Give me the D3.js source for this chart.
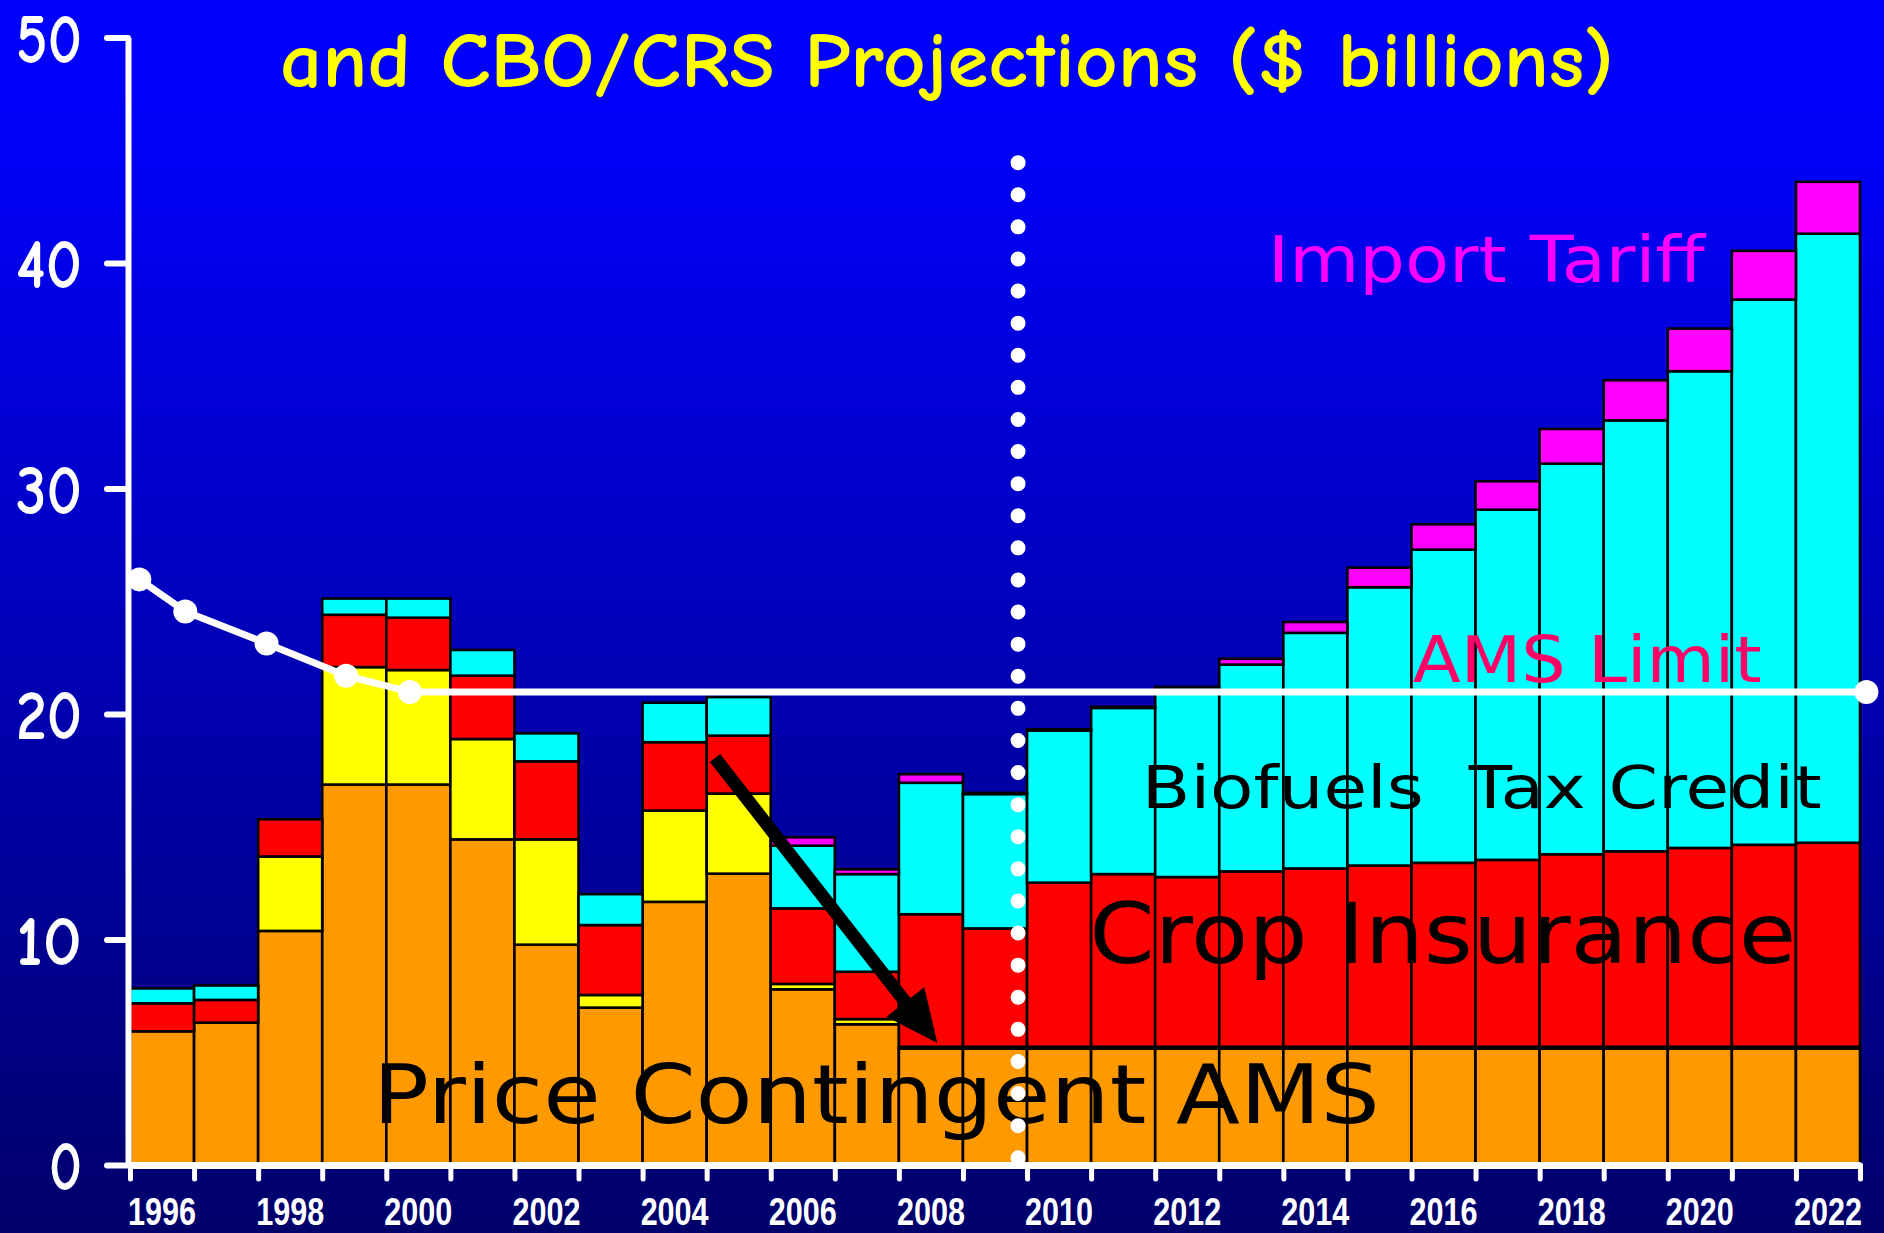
<!DOCTYPE html>
<html><head><meta charset="utf-8">
<script src="https://cdn.jsdelivr.net/npm/d3@7/dist/d3.min.js"></script>
<style>html,body{margin:0;padding:0;overflow:hidden;background:#0000b0}</style>
</head><body>
<svg id="chart" width="1884" height="1233"></svg>
<script>
// ---------- data ----------
const years = [1996,1997,1998,1999,2000,2001,2002,2003,2004,2005,2006,2007,2008,2009,2010,2011,2012,2013,2014,2015,2016,2017,2018,2019,2020,2021,2022];
const priceContingent = [5.93,6.31,10.38,16.87,16.87,14.44,9.77,6.98,11.67,12.92,7.79,6.24,5.2,5.2,5.2,5.2,5.2,5.2,5.2,5.2,5.2,5.2,5.2,5.2,5.2,5.2,5.2];
const otherAMS        = [0,0,3.30,5.21,5.08,4.45,4.67,0.56,4.05,3.55,0.24,0.23,0,0,0,0,0,0,0,0,0,0,0,0,0,0,0];
const cropInsurance   = [1.24,1.01,1.65,2.32,2.32,2.81,3.46,3.10,3.03,2.57,3.35,2.10,5.92,5.29,7.32,7.70,7.57,7.82,7.95,8.08,8.20,8.33,8.58,8.71,8.86,9.00,9.09];
const biofuelsCredit  = [0.66,0.64,0,0.72,0.85,1.14,1.24,1.37,1.75,1.71,2.78,4.33,5.83,5.96,6.75,7.37,8.38,9.17,10.45,12.34,13.89,15.53,17.32,19.11,21.14,24.18,27.01];
const importTariff    = [0,0,0,0,0,0,0,0,0,0,0.37,0.21,0.38,0.05,0.05,0.05,0.05,0.26,0.48,0.87,1.12,1.26,1.54,1.78,1.89,2.16,2.30];
const seriesKeys   = ["priceContingent","otherAMS","cropInsurance","biofuelsCredit","importTariff"];
const seriesColors = ["#FF9900","#FFFF00","#FF0000","#00FFFF","#FF00FF"];

const amsLimitX = [1995.645,1996.363,1997.631,1998.872,1999.867,2022.6];
const amsLimitY = [25.97,24.55,23.13,21.70,20.98,20.98];

const yTickValues = [0,10,20,30,40,50];
const xTickLabels = ["1996","1998","2000","2002","2004","2006","2008","2010","2012","2014","2016","2018","2020","2022"];
const projectionDivider = 2009.36;
const arrowFrom = [2004.63, 18.05];
const arrowTo   = [2008.10, 5.41];

const titleLine = "and CBO/CRS Projections ($ billions)";
const seriesLabels = [
  {text:"Price Contingent AMS", x:1999.29, y:1.86,  size:82, len:1007, color:"#000000"},
  {text:"Crop Insurance",       x:2010.47, y:8.96,  size:83, len:707,  color:"#000000"},
  {text:"Biofuels  Tax Credit", x:2011.29, y:15.83, size:59, len:680,  color:"#000000"},
  {text:"AMS Limit",            x:2015.52, y:21.42, size:64, len:349,  color:"#FF0066"},
  {text:"Import Tariff",        x:2013.26, y:39.16, size:64, len:437,  color:"#FF00FF"}
];

// ---------- setup ----------
const W = 1884, H = 1233;
const svg = d3.select("#chart");
const defs = svg.append("defs");
const grad = defs.append("linearGradient").attr("id","bg").attr("x1",0).attr("y1",0).attr("x2",0).attr("y2",1);
grad.append("stop").attr("offset","0").attr("stop-color","#0000FF");
grad.append("stop").attr("offset","0.12").attr("stop-color","#0000F8");
grad.append("stop").attr("offset","1").attr("stop-color","#00006A");
svg.append("rect").attr("width",W).attr("height",H).attr("fill","url(#bg)");

const x  = d3.scaleBand().domain(years).range([130,1860]).padding(0);
const xl = d3.scaleLinear().domain([1995.5,2022.5]).range([130,1860]);
const y  = d3.scaleLinear().domain([0,50]).range([1165,37.5]);
const bw = x.bandwidth();

// ---------- stacked bars ----------
const rows = years.map((yr,i)=>({year:yr, priceContingent:priceContingent[i], otherAMS:otherAMS[i],
  cropInsurance:cropInsurance[i], biofuelsCredit:biofuelsCredit[i], importTariff:importTariff[i]}));
const stacked = d3.stack().keys(seriesKeys)(rows);

const gBars = svg.append("g");
stacked.forEach((layer,li)=>{
  gBars.append("g").selectAll("rect")
    .data(layer.filter(d=>d[1]-d[0]>0))
    .join("rect")
    .attr("x",d=>x(d.data.year))
    .attr("y",d=>y(d[1]))
    .attr("width",bw)
    .attr("height",d=>y(d[0])-y(d[1]))
    .attr("fill",seriesColors[li])
    .attr("stroke","#000")
    .attr("stroke-width",2.6);
});
// thick boundary over projected price-contingent level
const projYears = years.filter(yr=>yr>=2008);
svg.append("line")
  .attr("x1",x(projYears[0])).attr("x2",x(projYears[projYears.length-1])+bw)
  .attr("y1",y(priceContingent[years.indexOf(2008)])).attr("y2",y(priceContingent[years.indexOf(2008)]))
  .attr("stroke","#000").attr("stroke-width",4.5);

// ---------- axes ----------
const yAxis = d3.axisLeft(y).tickValues(yTickValues).tickSize(21).tickSizeOuter(0).tickFormat("");
const gy = svg.append("g").attr("transform","translate(128,0)").call(yAxis);
gy.select(".domain").attr("stroke","#fff").attr("stroke-width",6);
gy.selectAll(".tick line").attr("stroke","#fff").attr("stroke-width",6).attr("stroke-linecap","round");

const xAxis = d3.axisBottom(xl).tickValues(d3.range(1995.5,2023,1)).tickSize(14).tickSizeOuter(0).tickFormat("");
const gx = svg.append("g").attr("transform","translate(0,1165)").call(xAxis);
gx.select(".domain").attr("stroke","#fff").attr("stroke-width",7);
gx.selectAll(".tick line").attr("stroke","#fff").attr("stroke-width",5).attr("stroke-linecap","round");

// y tick labels
svg.append("g").selectAll("text").data(yTickValues).join("text")
  .attr("x",82).attr("y",d=>y(d)).attr("dy","0.36em")
  .attr("text-anchor","end")
  .attr("font-family","'Comic Sans MS','Comic Neue',Lato,'DejaVu Sans',sans-serif")
  .attr("font-weight","900").attr("font-size",70).attr("fill","#fff")
  .attr("textLength",d=>String(d).length*33).attr("lengthAdjust","spacingAndGlyphs")
  .text(d=>d);

// x tick labels
svg.append("g").selectAll("text").data(xTickLabels).join("text")
  .attr("x",d=>x(+d)+bw/2).attr("y",1225)
  .attr("text-anchor","middle")
  .attr("font-family","'Liberation Sans Narrow','Arial Narrow','Liberation Sans',Arial,sans-serif")
  .attr("font-weight","bold").attr("font-size",39).attr("fill","#fff")
  .attr("textLength",68).attr("lengthAdjust","spacingAndGlyphs")
  .text(d=>d);

// ---------- arrow ----------
(function(){
  const p0=[xl(arrowFrom[0]),y(arrowFrom[1])], p1=[xl(arrowTo[0]),y(arrowTo[1])];
  const dx=p1[0]-p0[0], dy=p1[1]-p0[1], L=Math.hypot(dx,dy);
  const u=[dx/L,dy/L], n=[-u[1],u[0]];
  const headL=52, headW=24;
  const base=[p1[0]-u[0]*headL, p1[1]-u[1]*headL];
  svg.append("line").attr("x1",p0[0]).attr("y1",p0[1])
    .attr("x2",base[0]+u[0]*6).attr("y2",base[1]+u[1]*6)
    .attr("stroke","#000").attr("stroke-width",13);
  svg.append("path").attr("d",d3.line()([p1,[base[0]+n[0]*headW,base[1]+n[1]*headW],[base[0]-n[0]*headW,base[1]-n[1]*headW]])+"Z")
    .attr("fill","#000");
})();

// ---------- AMS limit line ----------
const amsPts = amsLimitX.map((v,i)=>[xl(v),y(amsLimitY[i])]);
svg.append("path").attr("d",d3.line()(amsPts)).attr("fill","none")
  .attr("stroke","#fff").attr("stroke-width",7).attr("stroke-linejoin","round");
svg.append("g").selectAll("circle").data(amsPts).join("circle")
  .attr("cx",d=>d[0]).attr("cy",d=>d[1]).attr("r",12).attr("fill","#fff");

// ---------- labels ----------
svg.append("g").selectAll("text").data(seriesLabels).join("text")
  .attr("x",d=>xl(d.x)).attr("y",d=>y(d.y))
  .attr("font-family","'DejaVu Sans',Verdana,sans-serif")
  .attr("font-size",d=>d.size).attr("fill",d=>d.color)
  .attr("textLength",d=>d.len).attr("lengthAdjust","spacingAndGlyphs")
  .style("white-space","pre")
  .text(d=>d.text);

// ---------- projection divider ----------
svg.append("line")
  .attr("x1",xl(projectionDivider)).attr("x2",xl(projectionDivider))
  .attr("y1",y(44.45)).attr("y2",y(0))
  .attr("stroke","#fff").attr("stroke-width",15).attr("stroke-linecap","round")
  .attr("stroke-dasharray","0 32.1");

// ---------- title ----------
svg.append("text").attr("x",947).attr("y",87).attr("text-anchor","middle")
  .attr("font-family","'Comic Sans MS','Comic Neue',Lato,'DejaVu Sans',sans-serif")
  .attr("font-weight","900").attr("font-size",78).attr("fill","#FFFF00")
  .attr("textLength",1334).attr("lengthAdjust","spacingAndGlyphs")
  .text(titleLine);
</script>
</body></html>
